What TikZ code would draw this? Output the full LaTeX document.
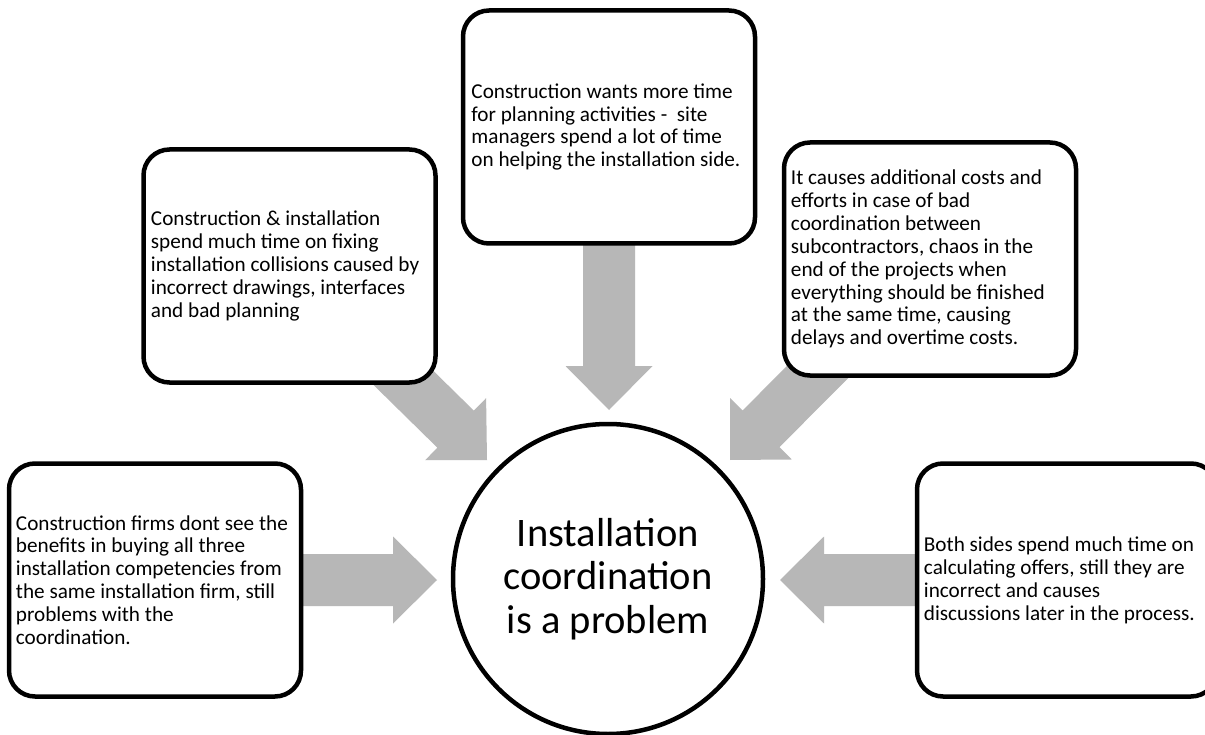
\documentclass[tikz,border=0pt]{standalone}
\usepackage{fontspec}
\setmainfont{Carlito}
\usetikzlibrary{calc,backgrounds}

\definecolor{arrowgray}{RGB}{183,183,183}

% wide grey block arrow from #1 to the tip #2
\newcommand\flowarrow[2]{%
  \coordinate (hb) at ($(#2)!44pt!(#1)$);
  \fill[flow] ($(#1)!26pt!90:(#2)$) -- ($(hb)!26pt!90:(#2)$)
    -- ($(hb)!43.5pt!90:(#2)$) -- (#2) -- ($(hb)!43.5pt!-90:(#2)$)
    -- ($(hb)!26pt!-90:(#2)$) -- ($(#1)!26pt!-90:(#2)$) -- cycle;}

\begin{document}
\begin{tikzpicture}[x=1pt,y=-1pt,
  box/.style={draw=black, line width=4.5pt, fill=white, rounded corners=26pt,
    minimum width=292pt, minimum height=233pt, inner sep=0pt},
  boxtext/.style={anchor=west, align=left, inner sep=0pt,
    font=\fontsize{21.2}{22.9}\selectfont},
  hub/.style={draw=black, line width=4.5pt, fill=white, circle,
    minimum size=310pt, inner sep=0pt, align=center,
    font=\fontsize{40.5}{43.5}\selectfont},
  flow/.style={fill=arrowgray}]

\clip (0,0) rectangle (1205,735);

% cause boxes
\node[box] (b1) at (155,580) {};
\node[boxtext] (t1) at ([xshift=9pt]b1.west)
  {Construction firms dont see the\\benefits in buying all three\\installation competencies from\\the same installation firm, still\\problems with the\\coordination.};

\node[box] (b2) at (289.5,266) {};
\node[boxtext] (t2) at ([xshift=9.5pt]b2.west)
  {Construction \& installation\\spend much time on fixing\\installation collisions caused by\\incorrect drawings, interfaces\\and bad planning};

\node[box] (b3) at (609,127) {};
\node[boxtext] (t3) at ([xshift=10.5pt]b3.west)
  {Construction wants more time\\for planning activities -\ \ site\\managers spend a lot of time\\on helping the installation side.};

\node[box] (b4) at (930,259) {};
\node[boxtext] (t4) at ([xshift=9pt]b4.west)
  {It causes additional costs and\\efforts in case of bad\\coordination between\\subcontractors, chaos in the\\end of the projects when\\everything should be finished\\at the same time, causing\\delays and overtime costs.};

% this box runs past the right edge of the page
\node[box, minimum width=300pt] (b5) at (1067,580) {};
\node[boxtext] (t5) at ([xshift=9pt]b5.west)
  {Both sides spend much time on\\calculating offers, still they are\\incorrect and causes\\discussions later in the process.};

% central problem
\node[hub] (hub) at (608,579) {Installation\\coordination\\is a problem};

% arrow tips in front of the circle
\coordinate (e1) at (437,580);
\coordinate (e2) at (487,460);
\coordinate (e3) at (609,410);
\coordinate (e4) at (730,460);
\coordinate (e5) at (780,580);

\begin{scope}[on background layer]
  \fill[white] (0,0) rectangle (1205,735);
  \flowarrow{b1.center}{e1}
  \flowarrow{b2.center}{e2}
  \flowarrow{b3.center}{e3}
  \flowarrow{b4.center}{e4}
  \flowarrow{b5.center}{e5}
\end{scope}
\end{tikzpicture}
\end{document}
